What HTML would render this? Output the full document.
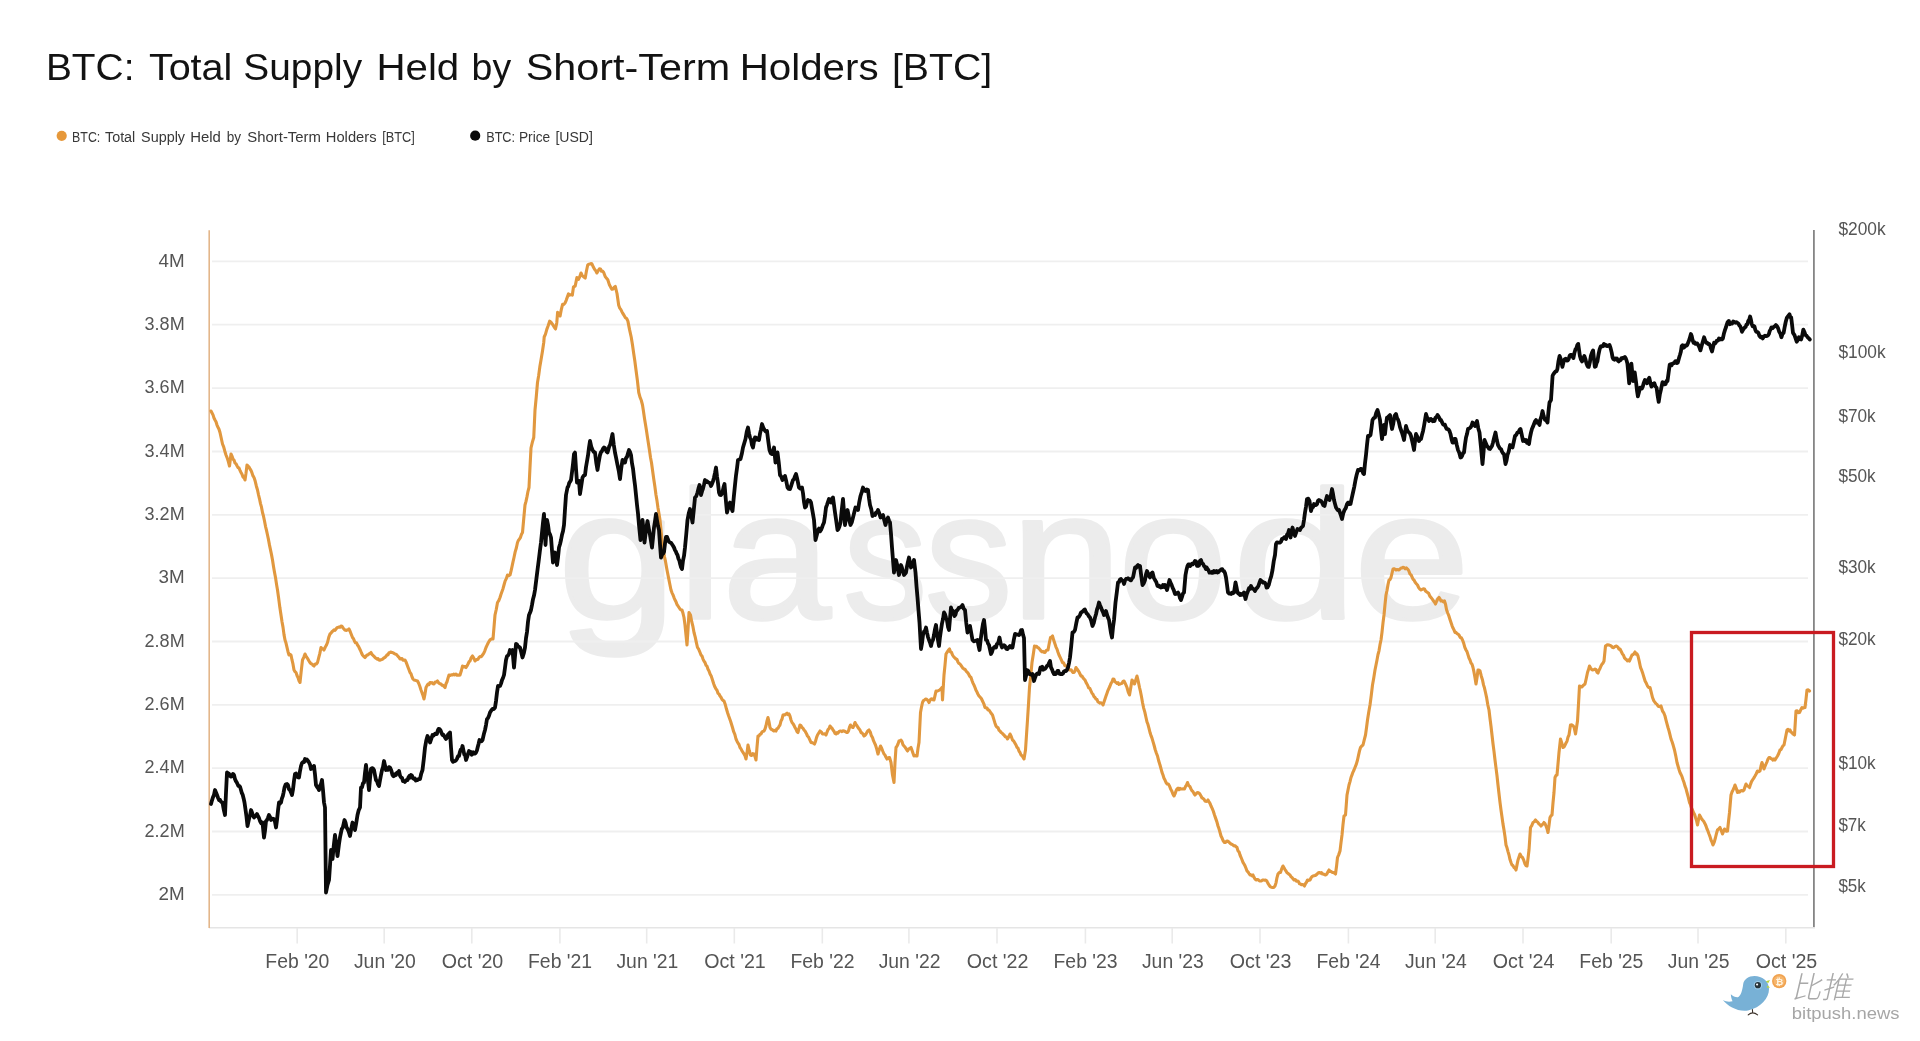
<!DOCTYPE html>
<html lang="en"><head><meta charset="utf-8"><title>BTC: Total Supply Held by Short-Term Holders [BTC]</title>
<style>html,body{margin:0;padding:0;background:#fff;}body{width:1920px;height:1041px;overflow:hidden;}svg{display:block;will-change:transform;}text{font-family:"Liberation Sans", sans-serif;}</style>
</head><body>
<svg width="1920" height="1041" viewBox="0 0 1920 1041">
<rect width="1920" height="1041" fill="#ffffff"/>
<text y="80" font-size="36.5" fill="#121212"><tspan x="45.91" textLength="88.54" lengthAdjust="spacingAndGlyphs">BTC:</tspan> <tspan x="148.90" textLength="83.48" lengthAdjust="spacingAndGlyphs">Total</tspan> <tspan x="243.34" textLength="118.77" lengthAdjust="spacingAndGlyphs">Supply</tspan> <tspan x="376.49" textLength="82.74" lengthAdjust="spacingAndGlyphs">Held</tspan> <tspan x="471.55" textLength="39.58" lengthAdjust="spacingAndGlyphs">by</tspan> <tspan x="525.77" textLength="204.46" lengthAdjust="spacingAndGlyphs">Short-Term</tspan> <tspan x="739.79" textLength="138.79" lengthAdjust="spacingAndGlyphs">Holders</tspan> <tspan x="891.95" textLength="100.35" lengthAdjust="spacingAndGlyphs">[BTC]</tspan></text>
<text y="142.4" font-size="15.4" fill="#383838"><tspan x="72.09" textLength="28.23" lengthAdjust="spacingAndGlyphs">BTC:</tspan> <tspan x="105.00" textLength="30.29" lengthAdjust="spacingAndGlyphs">Total</tspan> <tspan x="141.10" textLength="43.92" lengthAdjust="spacingAndGlyphs">Supply</tspan> <tspan x="190.13" textLength="30.71" lengthAdjust="spacingAndGlyphs">Held</tspan> <tspan x="226.80" textLength="14.33" lengthAdjust="spacingAndGlyphs">by</tspan> <tspan x="247.30" textLength="73.69" lengthAdjust="spacingAndGlyphs">Short-Term</tspan> <tspan x="325.84" textLength="50.66" lengthAdjust="spacingAndGlyphs">Holders</tspan> <tspan x="382.17" textLength="32.56" lengthAdjust="spacingAndGlyphs">[BTC]</tspan></text>
<text y="142.4" font-size="15.4" fill="#383838"><tspan x="486.18" textLength="28.87" lengthAdjust="spacingAndGlyphs">BTC:</tspan> <tspan x="518.91" textLength="31.29" lengthAdjust="spacingAndGlyphs">Price</tspan> <tspan x="555.39" textLength="37.46" lengthAdjust="spacingAndGlyphs">[USD]</tspan></text>
<circle cx="61.7" cy="135.8" r="5.1" fill="#e6983a"/>
<circle cx="475.2" cy="135.7" r="5.1" fill="#0a0a0a"/>
<text y="618" font-size="181" fill="#ececec" stroke="#ececec" stroke-width="3.5" stroke-linejoin="round"><tspan x="557.9" textLength="118.6" lengthAdjust="spacingAndGlyphs">g</tspan><tspan x="677.9" textLength="44.4" lengthAdjust="spacingAndGlyphs">l</tspan><tspan x="722.6" textLength="108.1" lengthAdjust="spacingAndGlyphs">a</tspan><tspan x="843.2" textLength="83.9" lengthAdjust="spacingAndGlyphs">s</tspan><tspan x="925.1" textLength="87.2" lengthAdjust="spacingAndGlyphs">s</tspan><tspan x="1011.0" textLength="110.7" lengthAdjust="spacingAndGlyphs">n</tspan><tspan x="1118.5" textLength="108.7" lengthAdjust="spacingAndGlyphs">o</tspan><tspan x="1232.6" textLength="124.6" lengthAdjust="spacingAndGlyphs">d</tspan><tspan x="1354.1" textLength="115.7" lengthAdjust="spacingAndGlyphs">e</tspan></text>
<line x1="212" y1="261.3" x2="1808" y2="261.3" stroke="#efefef" stroke-width="1.8"/>
<line x1="212" y1="324.7" x2="1808" y2="324.7" stroke="#efefef" stroke-width="1.8"/>
<line x1="212" y1="388.1" x2="1808" y2="388.1" stroke="#efefef" stroke-width="1.8"/>
<line x1="212" y1="451.5" x2="1808" y2="451.5" stroke="#efefef" stroke-width="1.8"/>
<line x1="212" y1="514.9" x2="1808" y2="514.9" stroke="#efefef" stroke-width="1.8"/>
<line x1="212" y1="578.2" x2="1808" y2="578.2" stroke="#efefef" stroke-width="1.8"/>
<line x1="212" y1="641.5" x2="1808" y2="641.5" stroke="#efefef" stroke-width="1.8"/>
<line x1="212" y1="704.8" x2="1808" y2="704.8" stroke="#efefef" stroke-width="1.8"/>
<line x1="212" y1="768.2" x2="1808" y2="768.2" stroke="#efefef" stroke-width="1.8"/>
<line x1="212" y1="831.5" x2="1808" y2="831.5" stroke="#efefef" stroke-width="1.8"/>
<line x1="212" y1="894.8" x2="1808" y2="894.8" stroke="#efefef" stroke-width="1.8"/>
<line x1="209" y1="927.7" x2="1815" y2="927.7" stroke="#e5e5e5" stroke-width="1.6"/>
<line x1="297.2" y1="928" x2="297.2" y2="943.5" stroke="#eaeaea" stroke-width="1.6"/>
<line x1="384.2" y1="928" x2="384.2" y2="943.5" stroke="#eaeaea" stroke-width="1.6"/>
<line x1="471.8" y1="928" x2="471.8" y2="943.5" stroke="#eaeaea" stroke-width="1.6"/>
<line x1="559.9" y1="928" x2="559.9" y2="943.5" stroke="#eaeaea" stroke-width="1.6"/>
<line x1="646.7" y1="928" x2="646.7" y2="943.5" stroke="#eaeaea" stroke-width="1.6"/>
<line x1="734.3" y1="928" x2="734.3" y2="943.5" stroke="#eaeaea" stroke-width="1.6"/>
<line x1="822.3" y1="928" x2="822.3" y2="943.5" stroke="#eaeaea" stroke-width="1.6"/>
<line x1="908.9" y1="928" x2="908.9" y2="943.5" stroke="#eaeaea" stroke-width="1.6"/>
<line x1="997.0" y1="928" x2="997.0" y2="943.5" stroke="#eaeaea" stroke-width="1.6"/>
<line x1="1085.4" y1="928" x2="1085.4" y2="943.5" stroke="#eaeaea" stroke-width="1.6"/>
<line x1="1172.2" y1="928" x2="1172.2" y2="943.5" stroke="#eaeaea" stroke-width="1.6"/>
<line x1="1260.0" y1="928" x2="1260.0" y2="943.5" stroke="#eaeaea" stroke-width="1.6"/>
<line x1="1348.4" y1="928" x2="1348.4" y2="943.5" stroke="#eaeaea" stroke-width="1.6"/>
<line x1="1435.2" y1="928" x2="1435.2" y2="943.5" stroke="#eaeaea" stroke-width="1.6"/>
<line x1="1523.0" y1="928" x2="1523.0" y2="943.5" stroke="#eaeaea" stroke-width="1.6"/>
<line x1="1611.2" y1="928" x2="1611.2" y2="943.5" stroke="#eaeaea" stroke-width="1.6"/>
<line x1="1698.0" y1="928" x2="1698.0" y2="943.5" stroke="#eaeaea" stroke-width="1.6"/>
<line x1="1785.8" y1="928" x2="1785.8" y2="943.5" stroke="#eaeaea" stroke-width="1.6"/>
<line x1="209.2" y1="230.3" x2="209.2" y2="928" stroke="#e3b68a" stroke-width="1.6"/>
<line x1="1813.9" y1="230" x2="1813.9" y2="927" stroke="#858585" stroke-width="1.8"/>
<text x="158.60" y="266.5" font-size="17.6" fill="#555555" textLength="26.10" lengthAdjust="spacingAndGlyphs">4M</text>
<text x="144.60" y="329.9" font-size="17.6" fill="#555555" textLength="40.07" lengthAdjust="spacingAndGlyphs">3.8M</text>
<text x="144.60" y="393.3" font-size="17.6" fill="#555555" textLength="40.07" lengthAdjust="spacingAndGlyphs">3.6M</text>
<text x="144.60" y="456.7" font-size="17.6" fill="#555555" textLength="40.07" lengthAdjust="spacingAndGlyphs">3.4M</text>
<text x="144.60" y="520.1" font-size="17.6" fill="#555555" textLength="40.07" lengthAdjust="spacingAndGlyphs">3.2M</text>
<text x="158.60" y="583.4" font-size="17.6" fill="#555555" textLength="26.10" lengthAdjust="spacingAndGlyphs">3M</text>
<text x="144.60" y="646.7" font-size="17.6" fill="#555555" textLength="40.07" lengthAdjust="spacingAndGlyphs">2.8M</text>
<text x="144.60" y="710.0" font-size="17.6" fill="#555555" textLength="40.07" lengthAdjust="spacingAndGlyphs">2.6M</text>
<text x="144.60" y="773.4" font-size="17.6" fill="#555555" textLength="40.07" lengthAdjust="spacingAndGlyphs">2.4M</text>
<text x="144.60" y="836.7" font-size="17.6" fill="#555555" textLength="40.07" lengthAdjust="spacingAndGlyphs">2.2M</text>
<text x="158.60" y="900.0" font-size="17.6" fill="#555555" textLength="26.10" lengthAdjust="spacingAndGlyphs">2M</text>
<text x="1838.40" y="235.0" font-size="17.6" fill="#555555" textLength="47.30" lengthAdjust="spacingAndGlyphs">$200k</text>
<text x="1838.40" y="358.2" font-size="17.6" fill="#555555" textLength="47.30" lengthAdjust="spacingAndGlyphs">$100k</text>
<text x="1838.40" y="421.6" font-size="17.6" fill="#555555" textLength="37.30" lengthAdjust="spacingAndGlyphs">$70k</text>
<text x="1838.40" y="481.6" font-size="17.6" fill="#555555" textLength="37.30" lengthAdjust="spacingAndGlyphs">$50k</text>
<text x="1838.40" y="572.7" font-size="17.6" fill="#555555" textLength="37.30" lengthAdjust="spacingAndGlyphs">$30k</text>
<text x="1838.40" y="645.3" font-size="17.6" fill="#555555" textLength="37.30" lengthAdjust="spacingAndGlyphs">$20k</text>
<text x="1838.40" y="768.6" font-size="17.6" fill="#555555" textLength="37.30" lengthAdjust="spacingAndGlyphs">$10k</text>
<text x="1838.40" y="831.4" font-size="17.6" fill="#555555" textLength="27.40" lengthAdjust="spacingAndGlyphs">$7k</text>
<text x="1838.40" y="891.8" font-size="17.6" fill="#555555" textLength="27.40" lengthAdjust="spacingAndGlyphs">$5k</text>
<text x="265.33" y="968.3" font-size="20" fill="#555555" textLength="64.09" lengthAdjust="spacingAndGlyphs">Feb '20</text>
<text x="353.95" y="968.3" font-size="20" fill="#555555" textLength="61.82" lengthAdjust="spacingAndGlyphs">Jun '20</text>
<text x="441.65" y="968.3" font-size="20" fill="#555555" textLength="61.62" lengthAdjust="spacingAndGlyphs">Oct '20</text>
<text x="528.03" y="968.3" font-size="20" fill="#555555" textLength="64.09" lengthAdjust="spacingAndGlyphs">Feb '21</text>
<text x="616.45" y="968.3" font-size="20" fill="#555555" textLength="61.82" lengthAdjust="spacingAndGlyphs">Jun '21</text>
<text x="704.15" y="968.3" font-size="20" fill="#555555" textLength="61.62" lengthAdjust="spacingAndGlyphs">Oct '21</text>
<text x="790.43" y="968.3" font-size="20" fill="#555555" textLength="64.09" lengthAdjust="spacingAndGlyphs">Feb '22</text>
<text x="878.65" y="968.3" font-size="20" fill="#555555" textLength="61.82" lengthAdjust="spacingAndGlyphs">Jun '22</text>
<text x="966.85" y="968.3" font-size="20" fill="#555555" textLength="61.62" lengthAdjust="spacingAndGlyphs">Oct '22</text>
<text x="1053.53" y="968.3" font-size="20" fill="#555555" textLength="64.09" lengthAdjust="spacingAndGlyphs">Feb '23</text>
<text x="1141.95" y="968.3" font-size="20" fill="#555555" textLength="61.82" lengthAdjust="spacingAndGlyphs">Jun '23</text>
<text x="1229.85" y="968.3" font-size="20" fill="#555555" textLength="61.62" lengthAdjust="spacingAndGlyphs">Oct '23</text>
<text x="1316.53" y="968.3" font-size="20" fill="#555555" textLength="64.09" lengthAdjust="spacingAndGlyphs">Feb '24</text>
<text x="1404.95" y="968.3" font-size="20" fill="#555555" textLength="61.82" lengthAdjust="spacingAndGlyphs">Jun '24</text>
<text x="1492.85" y="968.3" font-size="20" fill="#555555" textLength="61.62" lengthAdjust="spacingAndGlyphs">Oct '24</text>
<text x="1579.33" y="968.3" font-size="20" fill="#555555" textLength="64.09" lengthAdjust="spacingAndGlyphs">Feb '25</text>
<text x="1667.75" y="968.3" font-size="20" fill="#555555" textLength="61.82" lengthAdjust="spacingAndGlyphs">Jun '25</text>
<text x="1755.65" y="968.3" font-size="20" fill="#555555" textLength="61.62" lengthAdjust="spacingAndGlyphs">Oct '25</text>
<text x="1791.87" y="1019.2" font-size="16.3" fill="#a6a6a6" textLength="107.69" lengthAdjust="spacingAndGlyphs">bitpush.news</text>
<path d="M211,411 L212,412.93 L213,414.87 L214,418.02 L215,420 L216,421.73 L217,425.06 L218,427.26 L219,429.2 L220,432.5 L221.25,438.26 L222.5,444 L223.67,446.83 L224.83,451.21 L226,455 L227.17,457.89 L228.33,461.6 L229.5,466 L231,454 L232,456.11 L233,459.09 L234,460.07 L235,463 L236,463.75 L237,465.73 L238,467.56 L239,468 L240,470.39 L241,472.5 L242,474.19 L243,477.11 L244,477.31 L245,480 L246,473.15 L247,465 L248,465.95 L249,467.03 L250,469 L251,470.44 L252,472.91 L253,475.94 L254,477.5 L255.17,481.09 L256.33,485.98 L257.5,490 L258.5,494.75 L259.5,498.77 L260.5,503.59 L261.5,507.21 L262.5,512.5 L263.5,516.21 L264.5,520.97 L265.5,526.32 L266.5,530.37 L267.5,535 L268.5,539.67 L269.5,545.15 L270.5,549.92 L271.5,554.64 L272.5,560 L273.5,566.53 L274.5,572.36 L275.5,577.54 L276.5,584.13 L277.5,590 L278.67,598.38 L279.83,607.34 L281,615 L282,621.66 L283,627.12 L284,634.61 L285,640 L286,643.06 L287,647.35 L288,651.71 L289,655 L290,654.37 L291,655 L292,659.98 L293,664.17 L294,670 L295,671.55 L296,672.5 L297,675.48 L298,677.63 L299,680.68 L300,682.5 L301.25,670.91 L302.5,660 L303.75,657.35 L305,654 L306,655.92 L307,657.64 L308,659.17 L309,661 L310,662.61 L311,663.8 L312,663.95 L313,665.3 L314,666 L315.17,664.04 L316.33,664.03 L317.5,662.5 L318.67,657.76 L319.83,653.39 L321,647.5 L322,648.91 L323,648.78 L324,650 L325.17,647.29 L326.33,645.3 L327.5,642.5 L328.75,637.39 L330,634 L331,633.1 L332,631.74 L333,630.81 L334,629.87 L335,630.32 L336,629 L337,627.73 L338,627.35 L339,627 L340,627.27 L341,626 L342,626.25 L343,627.91 L344,629.09 L345,630 L346,630.44 L347,630.07 L348,629.91 L349,629 L350.17,631.43 L351.33,634.51 L352.5,637.5 L353.5,638.75 L354.5,641.19 L355.5,642.82 L356.5,642.87 L357.5,645 L358.5,646.42 L359.5,648.52 L360.5,650.52 L361.5,652.97 L362.5,655 L363.75,656.41 L365,657.5 L366,656.24 L367,654.94 L368,654.85 L369,653.93 L370,653.45 L371,652.5 L372,654.57 L373,655.34 L374,656.28 L375,657.5 L376,658.34 L377,659.07 L378,658.57 L379,660 L380,660.3 L381,659.67 L382,659.42 L383,658.87 L384,657.72 L385,657.5 L386,656.32 L387,654.79 L388,654.74 L389,652.71 L390,652.5 L391,652.02 L392,652.58 L393,652.79 L394,653.41 L395,654 L396,654.19 L397,655.1 L398,656.37 L399,657.28 L400,659 L401,658.95 L402,658.55 L403,660.27 L404,660.01 L405,660 L406,661.87 L407,664.55 L408,667.23 L409,669.76 L410,672.5 L411,673.7 L412,676.88 L413,679.01 L414,680 L415.17,680.27 L416.33,680.64 L417.5,681 L418.67,683.25 L419.83,686.28 L421,690 L422,692.72 L423,695.58 L424,699 L425,693.84 L426,687.5 L427,685.64 L428,684.14 L429,684.56 L430,682.5 L431,682.93 L432,682.61 L433,683.7 L434,684 L435.17,682.15 L436.33,682.05 L437.5,681 L438.67,682.86 L439.83,683.65 L441,684 L442,685.23 L443,685.32 L444,686.39 L445,687.5 L446,683.78 L447,681.74 L448,678.18 L449,675 L450.17,675.5 L451.33,674.69 L452.5,675 L453.67,674.17 L454.83,674.89 L456,674 L457,675.12 L458,675.13 L459,675.3 L460,675 L461.25,671.07 L462.5,666 L463.67,666.93 L464.83,666.51 L466,667.5 L467,665.91 L468,663.99 L469,661.78 L470,661 L471.25,657.65 L472.5,656 L473.75,658.1 L475,661 L476,659.69 L477,659.6 L478,659.2 L479,657.5 L480.17,656.57 L481.33,656.62 L482.5,655 L483.67,653.38 L484.83,650.82 L486,647.5 L487,645.38 L488,643.25 L489,641.38 L490,640 L491,639.12 L492,638.8 L493,639 L494,627.22 L495,615 L496.25,609.47 L497.5,602.5 L498.75,600.61 L500,597.5 L501,594.34 L502,591.53 L503,588.66 L504,585 L505.17,580.92 L506.33,578.62 L507.5,575 L508.75,575.74 L510,575 L511,571.13 L512,566.7 L513,561.84 L514,557.5 L515.17,551.92 L516.33,548.02 L517.5,542.5 L518.5,540.2 L519.5,539.04 L520.5,537.35 L521.5,534.31 L522.5,532.5 L523.75,518.57 L525,505 L526,501.43 L527,496.65 L528,491.28 L529,487.5 L530,467.08 L531,448 L532.38,442.12 L533.75,437.5 L535,410 L536.25,396.98 L537.5,382.5 L538.67,375.55 L539.83,366.86 L541,360 L542.38,351.84 L543.75,342.5 L544.2,337 L545.5,334.06 L546.8,329.4 L548.25,325.53 L549.7,321.1 L551.15,322.48 L552.6,324.4 L554.05,326.79 L555.5,329 L556.8,322.7 L557.6,312.3 L558.85,313.49 L560.1,316 L561.35,309.28 L562.6,304.3 L563.9,304.35 L565.2,302.7 L566.3,300.04 L567.4,296.88 L568.5,293.9 L569.77,295.11 L571.03,294.65 L572.3,295.2 L573.5,286.8 L575.2,286 L576.9,277.6 L578.5,279.3 L579.75,276.82 L581,273 L582.25,275.49 L583.5,276.8 L585.2,278 L586.45,270.98 L587.7,265 L588.75,264.25 L589.8,264.03 L590.85,263.63 L591.9,263.8 L593.6,267.6 L594.7,269.56 L595.8,270.77 L596.9,273 L598.15,270.75 L599.4,268.8 L600.45,268.99 L601.5,271.24 L602.55,271.09 L603.6,272.2 L605.3,276.8 L606.55,278.17 L607.8,279.7 L609.5,285.1 L610.75,287.35 L612,289.3 L613.1,289.06 L614.2,287.22 L615.3,286.4 L617,293.5 L618.7,305.2 L619.8,308.19 L620.9,309.67 L622,311.9 L623.13,313.89 L624.27,315.81 L625.4,317.7 L626.65,318.53 L627.9,321.1 L629.5,329.4 L631.2,337 L632.5,345 L633.67,353.23 L634.83,361.1 L636,370 L637.38,380.36 L638.75,392.5 L640,397.21 L641.25,400.24 L642.5,405 L643.5,411.45 L644.5,418.41 L645.5,424.6 L646.5,430.69 L647.5,437.5 L648.5,444.03 L649.5,450.6 L650.5,457.51 L651.5,462.79 L652.5,470 L653.67,478.44 L654.83,486.21 L656,495 L657,500.85 L658,507.99 L659,513.76 L660,520 L661.25,532.61 L662.5,545 L663.5,550.97 L664.5,556.74 L665.5,561.4 L666.5,567.2 L667.5,572.5 L668.67,578.34 L669.83,584.19 L671,590 L672,592.85 L673,594.91 L674,597.56 L675,600 L676,601.84 L677,604.54 L678,605.98 L679,607.5 L680,609.01 L681,609.96 L682,610 L683,613.32 L684,617.5 L685,625 L686,635.11 L687,645 L688,629.55 L689,612.5 L690.5,615 L691.67,621.45 L692.83,626.01 L694,632.5 L695.17,636.82 L696.33,642.4 L697.5,647.5 L698.67,649.23 L699.83,652.03 L701,655 L702,656.11 L703,659.06 L704,661.14 L705,662.5 L706,665.34 L707,666.13 L708,669.26 L709,671 L710.17,674.29 L711.33,676.36 L712.5,680 L713.67,683.69 L714.83,686.84 L716,689 L717,690.25 L718,693.31 L719,694.07 L720,696 L721,697.23 L722,699.38 L723,700.35 L724,701 L725.17,704.22 L726.33,708.54 L727.5,712.5 L728.5,715.53 L729.5,718.21 L730.5,720.95 L731.5,724.17 L732.5,727.5 L733.67,731.73 L734.83,734.3 L736,739 L737,741.22 L738,743.14 L739,744.51 L740,747.5 L741,748.82 L742,750.97 L743,752.4 L744,754 L745,755.72 L746,759 L747,752.87 L748,745 L749.25,750.52 L750.5,755 L751.67,755.52 L752.83,753.62 L754,754 L755,756.58 L756,760 L757,747.17 L758,736 L759,735.84 L760,734.25 L761,734 L762,732.08 L763,731.36 L764,730.99 L765,729 L766,725.74 L767,720.9 L768,717.5 L769,721.87 L770,727.5 L771,729.13 L772,729.38 L773,730.49 L774,731 L775,730.26 L776,731 L777,728.7 L778,728.34 L779,726.37 L780,725 L781,720.9 L782,719.12 L783,715 L784,714.91 L785,714.88 L786,714 L787,713.25 L788,714.64 L789,714 L790,716.22 L791,720 L792,722.53 L793,723.67 L794,725.34 L795,727.5 L796,729.26 L797,731.6 L798,732.5 L799,728.33 L800,725 L801,725.58 L802,727.55 L803,728.28 L804,730 L805.17,731.3 L806.33,733.39 L807.5,736 L808.67,737.36 L809.83,739.8 L811,742.5 L812.17,742.66 L813.33,743.15 L814.5,744 L815.5,741.47 L816.5,737.62 L817.5,735 L818.75,733 L820,731 L821.25,731.92 L822.5,734 L823.67,734.06 L824.83,733.8 L826,735 L827,732.3 L828,729.63 L829,728.67 L830,726 L831,727.43 L832,728.11 L833,730 L834,731.29 L835,733.45 L836,734 L837,732.54 L838,733.07 L839,731.63 L840,731 L841,730.99 L842,731.6 L843,730.81 L844,731 L845.17,731.51 L846.33,732.34 L847.5,732.5 L848.5,730.87 L849.5,727.22 L850.5,725 L851.75,726.85 L853,727.5 L854,725.37 L855,722.5 L856,724.41 L857,725.66 L858,727.5 L859,728.89 L860,730.03 L861,732.5 L862,733 L863,734.06 L864,736 L865,735.43 L866,734 L867,732.23 L868,730.73 L869,730 L870.17,731.75 L871.33,735.61 L872.5,737.5 L873.5,740.67 L874.5,742.81 L875.5,745 L876.75,749.11 L878,754 L879.25,749.54 L880.5,746 L881.67,748.29 L882.83,751.26 L884,754 L885,755.05 L886,757.24 L887,759 L888.25,757.82 L889.5,757.5 L891,762.5 L892.5,775 L894,782.5 L895,762.5 L896,747.5 L897,746.16 L898,744.02 L899,741 L900,740.58 L901,740 L902,741.54 L903,744.84 L904,746 L905.17,747.32 L906.33,749.08 L907.5,751 L908.67,748.94 L909.83,748.45 L911,747.5 L912,750.29 L913,753.17 L914,756 L915,755.46 L916,756.01 L917,756 L918,748.36 L919,742.5 L920.5,712.5 L921.5,707.08 L922.5,702.5 L923.5,700.59 L924.5,699.99 L925.5,699 L926.67,699.34 L927.83,700.47 L929,702.5 L930,700.4 L931,699 L932,698.85 L933,699.82 L934,700 L935,695.55 L936,691 L937.17,691.12 L938.33,690.62 L939.5,690 L940.75,689.14 L942,687.5 L942.5,700 L944,675 L945,665.18 L946,654 L947.17,652.13 L948.33,650.35 L949.5,649 L950.5,651.87 L951.5,652.37 L952.5,655 L953.67,656.74 L954.83,657.92 L956,659 L957,659.43 L958,662.1 L959,663.46 L960,664 L961,665.48 L962,666.92 L963,668.31 L964,669 L965.17,669.52 L966.33,671.38 L967.5,672.5 L968.67,674.17 L969.83,676.44 L971,677.5 L972,680.55 L973,683.09 L974,685.15 L975,687.5 L976,690.33 L977,692.08 L978,694.22 L979,696 L980.17,697.18 L981.33,698.49 L982.5,701 L983.75,703.59 L985,707.5 L986,707.87 L987,708.04 L988,709.98 L989,710 L990.17,711.77 L991.33,713.56 L992.5,715 L993.67,718.89 L994.83,722.66 L996,726 L997,727.23 L998,727.61 L999,730.29 L1000,731 L1001,732.45 L1002,733.01 L1003,734.06 L1004,735 L1005.17,736.62 L1006.33,736.89 L1007.5,739 L1008.75,736.93 L1010,734 L1011.25,736.55 L1012.5,740 L1013.67,740.9 L1014.83,742.91 L1016,745 L1017,747.29 L1018,748.22 L1019,751.06 L1020,752.5 L1021,754.98 L1022,755.74 L1023,757.16 L1024,759 L1025.5,750 L1026.5,734.96 L1027.5,720 L1028.5,704.08 L1029.5,687.5 L1030.75,675.48 L1032,662.5 L1033.25,654.46 L1034.5,646 L1035.5,646.76 L1036.5,646.24 L1037.5,647.5 L1038.67,648.03 L1039.83,649.39 L1041,651 L1042,651.81 L1043,651.4 L1044,652.25 L1045,652.5 L1046,650.79 L1047,650.04 L1048,650 L1049.25,643.33 L1050.5,637.5 L1051.5,637.06 L1052.5,636 L1053.75,640.35 L1055,644 L1056,647.07 L1057,649.12 L1058,652.28 L1059,655 L1060.17,657.44 L1061.33,659.94 L1062.5,662.5 L1063.67,662.98 L1064.83,665.54 L1066,666 L1067,666.46 L1068,668.86 L1069,669.79 L1070,670 L1071,669.76 L1072,671.18 L1073,672.45 L1074,672.5 L1075,670.84 L1076,667.5 L1077,669.03 L1078,670.33 L1079,671.85 L1080,674 L1081,676.05 L1082,675.98 L1083,677.9 L1084,679 L1085.17,680.36 L1086.33,683.04 L1087.5,685 L1088.67,687.81 L1089.83,688.34 L1091,691 L1092,693.2 L1093,694.27 L1094,696.57 L1095,697.5 L1096,699.12 L1097,699.52 L1098,701.97 L1099,702.5 L1100,703.1 L1101,702.89 L1102,703.48 L1103,705 L1104,701.99 L1105,698.91 L1106,696 L1107,693.14 L1108,690.35 L1109,688.22 L1110,686 L1111,683.34 L1112,681.95 L1113,679 L1114,679.27 L1115,681.78 L1116,682.5 L1117,683.49 L1118,682.57 L1119,684.39 L1120,684 L1121,683.63 L1122,683.22 L1123,681.37 L1124,681 L1125,682.94 L1126,685.14 L1127,687.5 L1128.25,692.15 L1129.5,695 L1130.75,687.66 L1132,680 L1133.25,681.75 L1134.5,684 L1135.75,679.87 L1137,676 L1138.25,681.35 L1139.5,687.5 L1140.5,691.69 L1141.5,696.78 L1142.5,702.5 L1143.67,708.1 L1144.83,712.11 L1146,717.5 L1147,722.03 L1148,724.55 L1149,728.33 L1150,732.5 L1151,735.64 L1152,738.19 L1153,741.65 L1154,745 L1155.17,749.49 L1156.33,753.03 L1157.5,756 L1158.75,761.06 L1160,765 L1161,768.57 L1162,772.41 L1163,775 L1164,778.29 L1165,780.09 L1166,782.5 L1167.17,784.06 L1168.33,784.02 L1169.5,786 L1170.62,788.92 L1171.75,790.91 L1172.88,793.95 L1174,796 L1175,793.93 L1176,790.95 L1177,789 L1178,788.19 L1179,789.77 L1180,788.33 L1181,789 L1182.17,788.95 L1183.33,788.72 L1184.5,789 L1185.5,786.47 L1186.5,785.1 L1187.5,782.5 L1188.67,785.52 L1189.83,786.4 L1191,789 L1192,790.78 L1193,791.64 L1194,793.6 L1195,795 L1196,793.98 L1197,792.73 L1198,792.5 L1199,793.06 L1200,794.31 L1201,796 L1202,797.98 L1203,798.49 L1204,799.25 L1205,801 L1206,801.4 L1207,801.23 L1208,800 L1209,801.91 L1210,803.35 L1211,806 L1212.17,808.45 L1213.33,811.26 L1214.5,815 L1215.67,818.38 L1216.83,821.6 L1218,826 L1219,828.86 L1220,832.23 L1221,836 L1222.17,838.29 L1223.33,841.03 L1224.5,842.5 L1225.5,842.45 L1226.5,841.34 L1227.5,841 L1228.67,841.84 L1229.83,843.04 L1231,844 L1232,844.45 L1233,845.04 L1234,846 L1235,845.71 L1236,846.6 L1237,847.5 L1238,850.84 L1239,851.83 L1240,855 L1241,857.26 L1242,859.73 L1243,862.4 L1244,864 L1245,865.82 L1246,868.25 L1247,871 L1248,871.88 L1249,873.49 L1250,875 L1251,874.9 L1252,875.82 L1253,875 L1254,877.29 L1255,879 L1256,880 L1257.17,879.47 L1258.33,879.82 L1259.5,881 L1260.5,881.04 L1261.5,881.05 L1262.5,880 L1263.5,879.95 L1264.5,880.16 L1265.5,880 L1266.67,880.77 L1267.83,883.14 L1269,885 L1270.17,886.6 L1271.33,887.25 L1272.5,887.5 L1273.75,887.39 L1275,886 L1276,882.85 L1277,877.55 L1278,874 L1279.25,872.55 L1280.5,872.5 L1281.75,868.63 L1283,866 L1284,867.71 L1285,869.66 L1286,871 L1287,872.79 L1288,873.4 L1289,874.27 L1290,875 L1291,876.73 L1292,877.42 L1293,878.84 L1294,880 L1295.17,879.5 L1296.33,881.17 L1297.5,881 L1298.5,881.52 L1299.5,883.76 L1300.5,884 L1301.5,884.76 L1302.5,884.65 L1303.5,884.83 L1304.5,886 L1305.5,883.55 L1306.5,882.25 L1307.5,880 L1308.75,880.36 L1310,880 L1311,877.97 L1312,876.56 L1313,876 L1314,875.71 L1315,875.48 L1316,875 L1317.17,873.97 L1318.33,872.84 L1319.5,872.5 L1320.5,873.18 L1321.5,872.62 L1322.5,874 L1323.5,873.98 L1324.5,874.6 L1325.5,875 L1326.67,874.16 L1327.83,871.93 L1329,870 L1330.17,871.52 L1331.33,871.62 L1332.5,872.5 L1333.5,872.52 L1334.5,873.04 L1335.5,874 L1336.5,866.58 L1337.5,857.5 L1338.75,854.62 L1340,851 L1341,842.65 L1342,835 L1343,824.64 L1344,816 L1345.5,815 L1347,795 L1348,790 L1349,785 L1350,781.56 L1351,777.5 L1352,774.86 L1353,772.06 L1354,770 L1355.17,766.97 L1356.33,764.1 L1357.5,760 L1358.5,755.34 L1359.5,750.83 L1360.5,747.5 L1361.75,745.96 L1363,745 L1364.25,739.86 L1365.5,735 L1366.5,727.83 L1367.5,720 L1368.75,711.96 L1370,705 L1371.25,695.53 L1372.5,685 L1373.75,677.93 L1375,670 L1376,665.01 L1377,660 L1378,654.47 L1379,650.85 L1380,644.66 L1381,640 L1382,632.24 L1383,622.85 L1384,615 L1385,604.5 L1386,595 L1387,590.47 L1388,584.63 L1389,580 L1390,579.56 L1391,577.5 L1392,573.24 L1393,569 L1394,568.77 L1395,569.17 L1396,570 L1397,569.6 L1398,569.8 L1399,570.06 L1400,569 L1401,567.99 L1402,568.06 L1403,567.36 L1404,567.5 L1405.17,568.85 L1406.33,567.86 L1407.5,569 L1408.75,570.69 L1410,574 L1411,574.71 L1412,576.81 L1413,579.22 L1414,580 L1415.17,582.36 L1416.33,583.75 L1417.5,585 L1418.67,587.56 L1419.83,589.11 L1421,590 L1422.17,589.36 L1423.33,588.77 L1424.5,589 L1425.5,590.95 L1426.5,591.78 L1427.5,592.5 L1428.67,593.32 L1429.83,596.13 L1431,597.5 L1432.12,598.91 L1433.25,600.52 L1434.38,602.07 L1435.5,604 L1436.67,601.24 L1437.83,598.77 L1439,597.5 L1440,598.85 L1441,601 L1442.17,600.73 L1443.33,601.82 L1444.5,601 L1445.5,604.16 L1446.5,609.5 L1447.5,612.5 L1448.67,615.31 L1449.83,618.91 L1451,622.5 L1452,625.58 L1453,628.08 L1454,629.88 L1455,632.5 L1456,632.31 L1457,633.7 L1458,634.15 L1459,635 L1460.17,637.42 L1461.33,637.78 L1462.5,640 L1463.67,643.09 L1464.83,647.38 L1466,650 L1467,651.65 L1468,654.84 L1469,658.06 L1470,660 L1471,662.98 L1472,664.17 L1473,667.5 L1474,672.16 L1475,677.71 L1476,684 L1477,677.76 L1478,670 L1479,670.06 L1480,671 L1481.25,675.95 L1482.5,680 L1483.5,684.88 L1484.5,688.04 L1485.5,692.5 L1486.67,697.92 L1487.83,704.99 L1489,710 L1490,718.54 L1491,726.24 L1492,735 L1493,743.72 L1494,751.34 L1495,760 L1496,767.93 L1497,775.77 L1498,785 L1499,793.79 L1500,802.42 L1501,810 L1502,816.91 L1503,824.13 L1504,830 L1505,836.64 L1506,845 L1507,847.85 L1508,851.62 L1509,855 L1510,859.57 L1511,862.5 L1512,864.98 L1513,865.63 L1514,867.5 L1515,868.3 L1516,870 L1517,864.87 L1518,860 L1519,856.99 L1520,854 L1521.25,856.52 L1522.5,857.5 L1523.75,860.18 L1525,864 L1526,865.54 L1527,866 L1528,858.43 L1529,850 L1530.5,827.5 L1531.75,825.58 L1533,822.5 L1534.25,821.74 L1535.5,820 L1536.67,821.53 L1537.83,822.36 L1539,824 L1540,824.68 L1541,826 L1542,824.58 L1543,824.17 L1544,822.5 L1545,823.49 L1546,826 L1547,828.71 L1548,832.5 L1549,825.46 L1550,817.5 L1551,815.8 L1552,815 L1553,802.97 L1554,792.5 L1555,777.5 L1556,775.41 L1557,775 L1558,763.84 L1559,752.5 L1560.5,739 L1561.75,742.94 L1563,747.5 L1564,746.86 L1565,745.19 L1566,743 L1567,741.21 L1568,737.24 L1569,735 L1570.5,725 L1571.67,724.92 L1572.83,725.61 L1574,727 L1575.5,734 L1576.5,727.5 L1577.5,721 L1578.5,703.88 L1579.5,686 L1580.75,686.4 L1582,687 L1583,685.52 L1584,684.85 L1585,684 L1586.25,678.47 L1587.5,672.5 L1588.5,669.56 L1589.5,666 L1590.5,667.78 L1591.5,669.29 L1592.5,670 L1593.75,669.8 L1595,669 L1596,669.65 L1597,672.28 L1598,673 L1599,670.3 L1600,668.45 L1601,666 L1602,664.1 L1603,663.1 L1604,661 L1605.5,646 L1606.67,645.13 L1607.83,644.88 L1609,645 L1610.17,645.37 L1611.33,646.04 L1612.5,647.5 L1613.67,647.69 L1614.83,646.64 L1616,646 L1617,646.44 L1618,647.31 L1619,649.14 L1620,649 L1621.25,651.51 L1622.5,654 L1623.5,655.18 L1624.5,657.89 L1625.5,659 L1626.5,659.78 L1627.5,660.88 L1628.5,659.78 L1629.5,661 L1630.75,657.95 L1632,655 L1633,654.57 L1634,653.61 L1635,652 L1636,654.08 L1637,653.84 L1638,656 L1639.25,661.38 L1640.5,667.5 L1641.67,670.15 L1642.83,673.61 L1644,677.5 L1645.17,681.18 L1646.33,683.32 L1647.5,686 L1648.75,687.52 L1650,687.5 L1651.25,692.27 L1652.5,697.5 L1653.75,700.66 L1655,702.5 L1656,703.58 L1657,704.4 L1658,706 L1659,706.5 L1660,706.8 L1661,706 L1662.5,711 L1663.75,712.79 L1665,716 L1666,720.01 L1667,723.88 L1668,727.5 L1669,730.83 L1670,734.93 L1671,739 L1672.17,742.02 L1673.33,745.8 L1674.5,750 L1675.75,755.81 L1677,762.5 L1678,766.01 L1679,769.44 L1680,772.5 L1681,774.47 L1682,776.62 L1683,779.69 L1684,782.5 L1685,786.15 L1686,788.6 L1687,792.5 L1688.25,797.16 L1689.5,802.5 L1690.5,804.47 L1691.5,808.03 L1692.5,810 L1693.5,812.59 L1694.5,814.21 L1695.5,817.5 L1696.5,820.53 L1697.5,825 L1698.5,819.81 L1699.5,815 L1700.5,816.76 L1701.5,818.58 L1702.5,820 L1703.67,821.26 L1704.83,823.39 L1706,826 L1707,829.02 L1708,831.17 L1709,834 L1710,836.61 L1711,840 L1712,842.15 L1713,845 L1714.25,842.07 L1715.5,837.5 L1716.5,833.41 L1717.5,830 L1718.75,828.87 L1720,827.5 L1721.25,830.49 L1722.5,834 L1723.5,831.35 L1724.5,829 L1725.5,830.32 L1726.5,831.23 L1727.5,831 L1728.5,821.5 L1729.5,812.5 L1731,795 L1732,791.95 L1733,790 L1734,787.91 L1735,785 L1736.25,788.22 L1737.5,792.5 L1738.5,791.11 L1739.5,792.22 L1740.5,791 L1741.67,790.53 L1742.83,790.91 L1744,790 L1745,786.83 L1746,784 L1747.17,785.86 L1748.33,786.26 L1749.5,787.5 L1750.5,784.39 L1751.5,781.63 L1752.5,780 L1753.75,778.09 L1755,776 L1756.25,773.75 L1757.5,771 L1758.75,771.74 L1760,771 L1761,766.01 L1762,762.5 L1763,765.97 L1764,769 L1765,766.27 L1766,764 L1767,761.84 L1768,759.03 L1769,757.5 L1770,757.61 L1771,758.54 L1772,759 L1773,760.1 L1774,758.96 L1775,760 L1776.25,757.98 L1777.5,756 L1778.75,753.55 L1780,750 L1781,749.59 L1782,747.5 L1783,745.71 L1784,745 L1785.5,737.5 L1787,730 L1788,729.33 L1789,730.8 L1790,730 L1791,732.19 L1792,732.64 L1793,734 L1794.5,735 L1796,711 L1797.17,710.7 L1798.33,712.77 L1799.5,712.5 L1800.75,709.8 L1802,707.5 L1803,708.23 L1804,707.72 L1805,707.5 L1806,699.33 L1807,690 L1808.25,689.89 L1809.5,691" fill="none" stroke="#e1983f" stroke-width="3.1" stroke-linejoin="round" stroke-linecap="round"/>
<path d="M211,804 L212,800.36 L213,797.18 L214,794.77 L215,790 L216,792.4 L217,795.02 L218,797.76 L219,800 L219.88,799.68 L220.75,801.29 L221.62,802.26 L222.5,802.5 L223.75,809.63 L225,815 L226,792.53 L227,772.5 L228,773.08 L229,773.61 L230,776 L231,776.68 L232,776.08 L233,773.88 L234,775 L234.88,778.7 L235.75,780.89 L236.62,782.21 L237.5,784 L238.38,785.85 L239.25,785.97 L240.12,787.05 L241,790 L241.88,793.21 L242.75,794.93 L243.62,798.45 L244.5,802.5 L245.5,809.56 L246.5,816.76 L247.5,826 L248.38,821.89 L249.25,817.82 L250.12,815.03 L251,810 L252,812.56 L253,815.42 L254,817.5 L255,816.33 L256,815.65 L257,814 L258,816.21 L259,818 L260,821 L261.25,823.24 L262.5,822.5 L264,837.5 L265,830.74 L266,821 L267,820.02 L268,817.62 L269,815 L270,816.95 L271,820 L272,818.86 L273,818.7 L274,819 L275,821.96 L276,827.5 L277,819.97 L278,810.53 L279,802.5 L280,803.54 L281,802.5 L281.88,798.41 L282.75,796.37 L283.62,792.29 L284.5,787.5 L285.75,784.25 L287,784 L288,785.13 L289,789.23 L290,790 L291,792.41 L292,795 L293,789.44 L294,780.69 L295,774 L296,773.59 L297,776.14 L298,777.46 L299,777.5 L300,771.06 L301,766 L302,763.01 L303,762 L304,762.14 L305,759 L306,760.65 L307,759.6 L308,760.86 L309,762.5 L310,764.55 L311,769 L312,766.68 L313,767.89 L314,766 L315,774.53 L316,785 L317,786.84 L318,788.18 L319,790 L320,785.74 L321,784.03 L322,780 L323,790.14 L324,802.5 L325,807.5 L326,892.5 L327.5,885 L329,880 L330,865.43 L331,850 L332.5,859 L333.75,845.85 L335,835 L336.25,845.26 L337.5,856 L339,844 L340,837.39 L341,832.5 L341.88,828.68 L342.75,827.66 L343.62,824.04 L344.5,820 L345.5,822.41 L346.5,827.15 L347.5,829 L348.75,831.63 L350,836 L351.25,828.93 L352.5,822.5 L353.75,827.31 L355,830 L356.25,822.93 L357.5,815 L358.75,810.05 L360,807.5 L361,787.5 L362,787.3 L363,783.31 L364,782.5 L365,773.02 L366,765 L367,774.15 L368,781.15 L369,790 L370,778.89 L371,769 L372,768.05 L373,768.44 L374,770 L375,775.25 L376,780 L377,781.23 L378,784.3 L379,786 L380,780.12 L381,775 L382,770.19 L383,767.04 L384,761 L385,765.45 L386,770 L387,769.6 L388,769.85 L389,767.17 L390,767.5 L391.25,770.21 L392.5,775 L393.38,776.23 L394.25,775.95 L395.12,774.25 L396,775 L397,772.74 L398,773.05 L399,771 L400,775.57 L401,777.5 L402,777.76 L403,781.18 L404,781 L404.88,781.9 L405.75,780.81 L406.62,780.01 L407.5,780 L408.38,777.56 L409.25,776.12 L410.12,777.64 L411,775 L412,775.55 L413,778.28 L414,779 L414.88,778.52 L415.75,780.47 L416.62,780.04 L417.5,780 L418.75,778.88 L420,779 L421.25,773.53 L422.5,770 L423.75,759.41 L425,747.5 L426.25,740.46 L427.5,736 L428.75,738.44 L430,742.5 L431.25,738.93 L432.5,735 L433.38,735.81 L434.25,734.84 L435.12,733.59 L436,734 L436.88,734 L437.75,730.61 L438.62,728.8 L439.5,729 L440.5,730.31 L441.5,732.84 L442.5,735 L443.38,734.68 L444.25,736.03 L445.12,737.61 L446,739 L447,737.59 L448,734.64 L449,733.71 L450,732.5 L451,747.42 L452,760 L453,761.77 L454,761.14 L455,761 L456,760.32 L457,758.75 L458,756.17 L459,756 L459.88,752.11 L460.75,749.55 L461.62,749.73 L462.5,746 L463.38,750.1 L464.25,754.39 L465.12,755.06 L466,760 L467,757.41 L468,753.95 L469,751 L469.88,752.44 L470.75,751.96 L471.62,754.75 L472.5,754 L473.38,752.35 L474.25,753.39 L475.12,753.59 L476,752.5 L476.88,750.58 L477.75,746.96 L478.62,743.74 L479.5,740 L480.5,740.88 L481.5,741.25 L482.5,740 L483.75,734.56 L485,730 L486,725.06 L487,719 L488,718.04 L489,715.78 L490,712.5 L491.25,710.5 L492.5,709 L493.75,709.12 L495,707.5 L496,701.09 L497,692.5 L498,686 L499,686.22 L500,686 L501,683.62 L502,680.15 L503,678 L504,675 L505,667.83 L506,660 L507,656.24 L508,655.42 L509,653.98 L510,650 L511.25,651.14 L512.5,650 L514,667.5 L515,656.43 L516,644 L517,644.54 L518,646.46 L519,646.87 L520,647.5 L521.25,652.32 L522.5,657.5 L523.75,653.52 L525,647.5 L526,638.13 L527,632 L528,621.71 L529,615 L530,612.8 L531,610 L532,604.94 L533,599.19 L534,595.6 L535,590 L536.25,579.99 L537.5,570 L538.75,560.34 L540,550 L541,542.51 L542,532.5 L543,522.52 L544,514 L545.5,545 L547,520 L548,524.78 L549,532.5 L550,534.4 L551,537.5 L552,550.53 L553,562.5 L554,556.61 L555,552.5 L556,557.76 L557,565 L558,557.47 L559,547.5 L560,544.23 L561,540 L562,534.83 L563,531.18 L564,525 L565,509.48 L566,495 L567.5,487.5 L568.38,486.12 L569.25,482.85 L570.12,481.67 L571,480 L572,472.25 L573,463.91 L574,454 L575,452.5 L576,468.64 L577,482.5 L578,481.4 L579,481 L580,494 L581.25,486 L582.5,477.5 L583.75,475.7 L585,475 L586,467.03 L587,461.24 L588,455.39 L589,447.5 L590,441 L591.25,446.55 L592.5,450 L593.75,451.88 L595,452.5 L596.25,462.6 L597.5,470 L598.75,461.83 L600,455 L601,452.13 L602,451.1 L603,448.7 L604,447.5 L604.88,447.89 L605.75,449.74 L606.62,451.63 L607.5,452.5 L608.38,449.61 L609.25,446.2 L610.12,444.89 L611,441 L612.5,434 L613.75,444.7 L615,452.5 L616.25,458.61 L617.5,465 L618.75,470.72 L620,479 L621.25,468.09 L622.5,460 L623.75,462.37 L625,462.5 L626,458 L627,456.88 L628,453.34 L629,450 L630,451.93 L631,455 L632,463.37 L633,468.56 L634,477.5 L635,485.16 L636,495 L637,504.86 L638,513.57 L639,525 L640.5,540 L641.5,530.99 L642.5,520 L643.5,530.46 L644.5,542.5 L645.5,534.26 L646.5,526.81 L647.5,521 L648.75,528.39 L650,535 L651,541.09 L652,547.5 L653,537.89 L654,527.5 L655,521.22 L656,514 L657,520.26 L658,526.04 L659,530 L660,544.3 L661,557.5 L662,554.76 L663,553.76 L664,552 L665,543.54 L666,537 L667,536.91 L668,539.67 L669,541.77 L670,542.5 L671,542.79 L672,544.32 L673,545.79 L674,547.5 L674.88,549.97 L675.75,551.31 L676.62,553.47 L677.5,555 L678.4,558.57 L679.3,560.28 L680.2,564.28 L681.1,567.42 L682,569 L683,560.59 L684,555.96 L685,547.5 L686.25,534.42 L687.5,520 L688.75,513.39 L690,509 L691.25,515.61 L692.5,522.5 L693.75,510.38 L695,497.5 L696.25,496.23 L697.5,492.5 L698.5,488.38 L699.5,485 L701,495 L702,491.46 L703,488.64 L704,484.64 L705,480 L706,481.96 L707,481.14 L708,482.33 L709,482.5 L710,483.36 L711,486 L712,483.83 L713,481.29 L714,477.5 L715,472.92 L716,467.5 L717,476.49 L718,483.31 L719,492.5 L720,494.95 L721,495 L721.88,493.69 L722.75,490.93 L723.62,486.86 L724.5,484 L725.75,499.12 L727,512.5 L728,508.63 L729,507.06 L730,502.5 L731.25,507.82 L732.5,511 L733.75,497.55 L735,485 L736,475.41 L737,468.16 L738,460 L739.25,459.65 L740.5,459 L741.75,454.05 L743,447.5 L744.25,443.21 L745.5,439 L746.75,431.84 L748,427.5 L749,433.43 L750,437.5 L751,439.53 L752,445.07 L753,447.5 L754,441.52 L755,437.5 L756,437.63 L757,439.61 L758,438.3 L759,440 L760,433.61 L761,429.38 L762,424 L763.25,427.67 L764.5,430 L765.75,431.52 L767,431 L768.25,441.07 L769.5,450 L770.75,453.34 L772,454 L773,450.73 L774,447.5 L775.5,462.5 L776.5,458.85 L777.5,452.5 L778.75,462.51 L780,475 L781.25,476.66 L782.5,480 L783.75,478.08 L785,476 L786.25,481.12 L787.5,487.5 L788.75,488.94 L790,489 L791,486.42 L792,483.07 L793,480 L794,479.03 L795,476.18 L796,474 L797,477.94 L798,482.64 L799,487.5 L800,488.54 L801,488.7 L802,487.5 L803,493.29 L804,501.89 L805,507.5 L806,506.41 L807,502.57 L808,500 L809,501.05 L810,500.77 L811,502.5 L812,508.44 L813,514.18 L814,520 L815.5,540 L816.75,535.32 L818,530 L819,528.58 L820,531.41 L821,530 L822,527.55 L823,524.7 L824,522.5 L825,515.9 L826,507.5 L827,504.86 L828,501.81 L829,499 L830,501.32 L831,502.5 L832,498.7 L833,497.5 L834,505.12 L835,512.5 L836.25,520.99 L837.5,530 L838.5,528.87 L839.5,526.27 L840.5,522.5 L841.75,510.06 L843,499 L844,511.92 L845,525 L846.25,516.38 L847.5,510 L848.5,514.8 L849.5,520.95 L850.5,525 L851.75,522.45 L853,517.5 L854.25,512.43 L855.5,507.5 L856.75,508.2 L858,510 L859.25,502.07 L860.5,496 L861.75,492.1 L863,487.5 L864.25,490.53 L865.5,491 L866.75,489.39 L868,490 L869,498.34 L870,505 L871.25,509.07 L872.5,516 L873.75,514.58 L875,515 L876,512.52 L877,512.23 L878,510 L879.25,513.22 L880.5,517.5 L881.75,515.82 L883,515 L884.25,520.36 L885.5,525 L886.75,520.06 L888,517.5 L889,520.69 L890,522.5 L891,533.87 L892,547.5 L893,560.03 L894,572.5 L895,565.5 L896,560 L897,564.09 L898,570.09 L899,575 L900,569.81 L901,565 L902,567.96 L903,571.41 L904,575 L905,573.84 L906,572.5 L907,566.48 L908,561.61 L909,557.5 L910,562.89 L911,567.5 L912,565.42 L913,562.59 L914,560 L915.5,572.5 L916.5,586.05 L917.5,597.5 L918.5,610.34 L919.5,622.5 L921,649 L922,643.07 L923,635 L924,631.7 L925,630.72 L926,627.5 L927,632.6 L928,637.04 L929,640 L930,642.45 L931,646 L932,641.78 L933,639.93 L934,635 L935,629.15 L936,625 L937,633.5 L938,640.16 L939,646 L940,636.9 L941,630 L942,623.38 L943,619.01 L944,612.5 L945,614.28 L946,617.5 L947,620.46 L948,626.83 L949,630 L950,618.51 L951,607.5 L951.88,610.49 L952.75,610.63 L953.62,613.58 L954.5,616 L955.5,614.56 L956.5,610.55 L957.5,610 L958.75,607.85 L960,607.5 L961.25,606.8 L962.5,605 L963.75,608.73 L965,610 L966.25,622.66 L967.5,632.5 L968.75,628.1 L970,626 L971.25,633.02 L972.5,640 L973.75,641.27 L975,641 L976.25,640.51 L977.5,640 L978.5,645.56 L979.5,650 L980.75,639.07 L982,630 L983,623.71 L984,620 L985,628.82 L986,640 L987,640.28 L988,643.49 L989,645 L990,649.54 L991,654 L992,652.04 L993,648.61 L994,647.5 L995,646.55 L996,647.5 L996.88,644.11 L997.75,643.52 L998.62,641.47 L999.5,637.5 L1000.75,643.78 L1002,647.5 L1003,645.79 L1004,645.19 L1005,646 L1006.25,648.85 L1007.5,649 L1008.75,647.39 L1010,646 L1011.25,647.54 L1012.5,647.5 L1013.75,640.23 L1015,634 L1016,634.15 L1017,634.55 L1018,634.54 L1019,635 L1020,633.64 L1021,630.21 L1022,630 L1023,634.6 L1024,638 L1025,680 L1026,676.03 L1027,670 L1028.25,671.04 L1029.5,674 L1030.5,673.86 L1031.5,674.72 L1032.5,674 L1034,681 L1035,677.72 L1036,675 L1037,673.75 L1038,673.33 L1039,674 L1040.5,667.5 L1041.38,667.91 L1042.25,666.8 L1043.12,669.8 L1044,669 L1045,668.91 L1046,667.61 L1047,666 L1048,665.42 L1049,663.05 L1050,661 L1051,667.5 L1052,669.38 L1053,672.13 L1054,674 L1054.88,673.26 L1055.75,673.95 L1056.62,672.66 L1057.5,671 L1058.38,671.02 L1059.25,673.73 L1060.12,673.98 L1061,674 L1062,674.08 L1063,673.44 L1064,671.47 L1065,671 L1066,671.02 L1067,669.81 L1068,667.5 L1069,663.08 L1070,657.5 L1071.25,645.8 L1072.5,632.5 L1073.75,632.05 L1075,630 L1076.25,623.47 L1077.5,617.5 L1078.75,616.92 L1080,615 L1081,612.46 L1082,612.03 L1083,611.16 L1084,610 L1084.88,609.53 L1085.75,611.57 L1086.62,613.42 L1087.5,614 L1088.75,616.12 L1090,617.5 L1091.25,620.95 L1092.5,626 L1093.75,623.08 L1095,617.5 L1096,614.25 L1097,609.51 L1098,606.73 L1099,602.5 L1100,605.21 L1101,607.5 L1102,610.1 L1103,612.17 L1104,615 L1105,614.5 L1106,611 L1107,614.43 L1108,617.6 L1109,620 L1110,626.62 L1111,633.11 L1112,637.5 L1113,627.32 L1114,620 L1115.5,602.5 L1116.75,592.85 L1118,582.5 L1119,582.05 L1120,579.44 L1121,579 L1122,580.37 L1123,580.98 L1124,584 L1125,580.59 L1126,579 L1127,578.88 L1128,578.3 L1129,579 L1130,580 L1131,580.38 L1132,578.48 L1133,577.5 L1134,572.52 L1135,567.5 L1136,568.07 L1137,566.04 L1138,565 L1139,566.99 L1140,566 L1141.25,575.91 L1142.5,585 L1143.75,583.43 L1145,580 L1146,574.23 L1147,571 L1148,573.46 L1149,576.11 L1150,577.5 L1151.25,573.64 L1152.5,572.5 L1153.75,577.54 L1155,580 L1156.25,581.98 L1157.5,586 L1158.38,586.29 L1159.25,585.76 L1160.12,587.11 L1161,587.5 L1162,587.21 L1163,584.93 L1164,586.96 L1165,585 L1166,587.26 L1167,590 L1168.25,585.08 L1169.5,580 L1170.5,582.79 L1171.5,584.6 L1172.5,587.5 L1173.75,590.11 L1175,594 L1176,593.97 L1177,593.18 L1178,592.5 L1179,594.35 L1180,598.15 L1181,600 L1182,596.89 L1183,593.54 L1184,592.5 L1185.5,575 L1186.5,569.74 L1187.5,566 L1188.38,564.38 L1189.25,564.47 L1190.12,566.01 L1191,565 L1192,563.67 L1193,564.19 L1194,562.75 L1195,561 L1196,561.32 L1197,565.8 L1198,566 L1199,565.33 L1200,560.72 L1201,560 L1202,563.22 L1203,563.79 L1204,566 L1204.88,566.68 L1205.75,568.92 L1206.62,567.48 L1207.5,569 L1208.5,570.24 L1209.5,572.65 L1210.5,572.5 L1211.38,572.79 L1212.25,571.66 L1213.12,572.81 L1214,571 L1214.88,572.33 L1215.75,572.06 L1216.62,570.97 L1217.5,572.5 L1218.5,572.04 L1219.5,570.7 L1220.5,570 L1221.38,569.36 L1222.25,569.16 L1223.12,570.83 L1224,571 L1225,573.12 L1226,577.5 L1227,584.83 L1228,592.5 L1229,593.5 L1230,593.37 L1231,594 L1232,592.79 L1233,593.25 L1234,592.5 L1235.5,582.5 L1236.5,587.26 L1237.5,592.5 L1238.38,593.71 L1239.25,593.34 L1240.12,595.12 L1241,594 L1242,594.86 L1243,593.7 L1244,592.5 L1245.5,599 L1246.75,594.22 L1248,591 L1249,588.17 L1250,588.84 L1251,586 L1252,588.1 L1253,588.87 L1254,589.33 L1255,591 L1256.25,588.56 L1257.5,587.5 L1258.5,585.56 L1259.5,582.69 L1260.5,580 L1261.38,580.9 L1262.25,581.65 L1263.12,582.64 L1264,582.5 L1264.88,582.82 L1265.75,584.25 L1266.62,587.69 L1267.5,587.5 L1268.75,585 L1270,580 L1271.25,576.14 L1272.5,570 L1273.75,561.12 L1275,555 L1276,544 L1277,542.31 L1278,542.56 L1279,542.65 L1280,542.5 L1281,541.62 L1282,538.81 L1283,538.87 L1284,537.5 L1285,536.97 L1286,539 L1287,534.76 L1288,533.53 L1289,530 L1290.5,537.5 L1291.5,532.65 L1292.5,527.5 L1293.75,532.14 L1295,536 L1296.25,532.12 L1297.5,529 L1298.75,529.44 L1300,530 L1301,527.8 L1302,526.86 L1303,526 L1304,519.98 L1305,512.5 L1306,506.77 L1307,499 L1308.25,498.72 L1309.5,501 L1311,511 L1312,507.53 L1313,507.26 L1314,504 L1315,504.87 L1316,505 L1317,504.14 L1318,500.81 L1319,500 L1320,500.61 L1321,500.94 L1322,502.5 L1323.25,505.18 L1324.5,506 L1325.75,500.61 L1327,496 L1328.25,498.46 L1329.5,500 L1330.75,495.97 L1332,489 L1333,493.98 L1334,500 L1335,503.9 L1336,507.5 L1337,509.07 L1338,510.43 L1339,510 L1340,512.78 L1341,515.61 L1342,519 L1343.25,513.29 L1344.5,510 L1345.75,508.13 L1347,504 L1347.88,502.74 L1348.75,502.75 L1349.62,504.19 L1350.5,504 L1351.75,498.2 L1353,492.5 L1354.25,486.81 L1355.5,480 L1356.75,474.4 L1358,470 L1359.25,470.33 L1360.5,469 L1361.38,468.98 L1362.25,470.64 L1363.12,473.24 L1364,474 L1365,463.25 L1366,455 L1367,444.91 L1368,436 L1369.25,436.17 L1370.5,435 L1371.5,428.08 L1372.5,420 L1373.75,418.1 L1375,417.5 L1376.25,412.68 L1377.5,410 L1378.75,414.57 L1380,420 L1381,430.18 L1382,439 L1383,431.6 L1384,425 L1385,434 L1386,424.6 L1387,417.5 L1388,417.29 L1389,416.04 L1390,415 L1391,423.26 L1392,429 L1393.25,423.82 L1394.5,416 L1396,414 L1397,418.07 L1398,419.48 L1399,422.5 L1400,427.16 L1401,430 L1402,432.75 L1403,436.12 L1404,440 L1405,432.7 L1406,426 L1407,429.47 L1408,431.52 L1409,432.5 L1410,433.49 L1411,436 L1412,440.25 L1413,444.93 L1414,450 L1415,441.59 L1416,434 L1417,436.02 L1418,438.33 L1419,441 L1420,439.08 L1421,439 L1422,434.86 L1423,431.22 L1424,426 L1425,420.12 L1426,414 L1427,417.34 L1428,418.86 L1429,421 L1430,419.03 L1431,419 L1431.88,420.28 L1432.75,421.14 L1433.62,419.84 L1434.5,421 L1435.5,417.57 L1436.5,417.05 L1437.5,415 L1438.38,416.38 L1439.25,417.7 L1440.12,420.15 L1441,420 L1442,422.12 L1443,424.25 L1444,425 L1444.88,424.69 L1445.75,427.14 L1446.62,428.86 L1447.5,429 L1448.5,429.42 L1449.5,431.08 L1450.5,434 L1451.5,438.96 L1452.5,442.5 L1453.5,442.53 L1454.5,438.92 L1455.5,439 L1456.75,444.9 L1458,450 L1459.25,452.68 L1460.5,457.5 L1461.38,456.99 L1462.25,455.45 L1463.12,452.99 L1464,452.5 L1465,444.16 L1466,437.5 L1467,434.05 L1468,429 L1469.25,428.31 L1470.5,427.5 L1471.5,425.79 L1472.5,422.5 L1473.75,423.93 L1475,426 L1476,423.01 L1477,421 L1478.25,428.15 L1479.5,432.5 L1481,447.5 L1482.5,464 L1483.5,452.52 L1484.5,440 L1485.75,442.98 L1487,446 L1488,447.11 L1489,448.66 L1490,449 L1491,447.46 L1492,445.91 L1493,442.5 L1494.25,437.23 L1495.5,432.5 L1496.75,439.73 L1498,445 L1499,446.83 L1500,448.73 L1501,449 L1502,451.58 L1503,453.33 L1504,454 L1505.5,464 L1506.5,460.67 L1507.5,455 L1508.75,451.37 L1510,445 L1511.25,446.67 L1512.5,447.5 L1513.75,441.82 L1515,436 L1516.25,434.88 L1517.5,432.5 L1518.5,432.24 L1519.5,429.93 L1520.5,429 L1521.75,434.76 L1523,441 L1524,439.61 L1525,441.06 L1526,440 L1527,442.81 L1528,442.29 L1529,444 L1530,437.25 L1531,432.5 L1532,428.78 L1533,426.61 L1534,424 L1535,421.38 L1536,420 L1536.88,422.66 L1537.75,421.18 L1538.62,423.18 L1539.5,425 L1540.5,419.18 L1541.5,416.11 L1542.5,411 L1543.75,416.33 L1545,420 L1546.25,420.29 L1547.5,422.5 L1548.5,411.19 L1549.5,402.5 L1551,400 L1552.6,375.6 L1553.65,373.83 L1554.7,372.3 L1555.6,371.45 L1556.5,371.33 L1557.4,369 L1558.5,361.06 L1559.6,355.9 L1560.53,358.39 L1561.47,362.29 L1562.4,366.9 L1563.5,362.2 L1564.6,359.2 L1565.7,358.77 L1566.8,360.59 L1567.9,360.3 L1568.77,358.75 L1569.63,355.81 L1570.5,354.8 L1571.47,354.95 L1572.43,356.34 L1573.4,358.1 L1574.45,352.72 L1575.5,349.3 L1576.4,348.27 L1577.3,345.14 L1578.2,343.9 L1579.05,350.04 L1579.9,355.9 L1581,359.6 L1582.1,361.4 L1583.2,358.59 L1584.3,355.9 L1585.4,359.03 L1586.5,363.6 L1587.6,366.41 L1588.7,366.9 L1589.8,362.64 L1590.9,355.9 L1592,352.68 L1593.1,350.4 L1593.95,358.79 L1594.8,366.9 L1595.67,366.44 L1596.53,363.18 L1597.4,361.4 L1598.5,354.51 L1599.6,349.3 L1600.7,346.35 L1601.8,346.1 L1602.9,346.34 L1604,343.9 L1604.97,345.54 L1605.93,345.02 L1606.9,346.1 L1607.77,345.82 L1608.63,345.41 L1609.5,345 L1610.6,348.12 L1611.7,352.6 L1612.55,357.37 L1613.4,359.2 L1614.27,359.67 L1615.13,358.41 L1616,359.2 L1616.9,358.47 L1617.8,360.58 L1618.7,361.4 L1619.63,359.91 L1620.57,360.09 L1621.5,358.1 L1622.6,358.37 L1623.7,357.68 L1624.8,357 L1625.67,358.17 L1626.53,360.37 L1627.4,363.6 L1628.3,372.92 L1629.2,383.3 L1630.3,372.73 L1631.4,363.6 L1633.1,381.1 L1634.7,372.3 L1636.2,383.3 L1637.05,390.96 L1637.9,396.4 L1639,392.1 L1640.1,387.7 L1641,387.74 L1641.9,388.45 L1642.8,386.6 L1643.85,382.6 L1644.9,380 L1646,381.75 L1647.1,383.3 L1648.2,379.5 L1649.3,377.8 L1650.4,383.01 L1651.5,386.6 L1652.47,384 L1653.43,385.36 L1654.4,383.3 L1655.5,386.54 L1656.6,387.7 L1657.65,395.77 L1658.7,401.9 L1659.8,394.65 L1660.9,389.9 L1662.5,382.2 L1663.6,382.61 L1664.7,384.4 L1665.63,383.95 L1666.57,380.99 L1667.5,381.1 L1668.6,372.84 L1669.7,364.7 L1670.63,364.24 L1671.57,365.33 L1672.5,363.6 L1673.4,363.13 L1674.3,363.21 L1675.2,361.4 L1676.07,361.18 L1676.93,363 L1677.8,362.5 L1678.9,358.4 L1680,354.8 L1680.85,351.7 L1681.7,346.1 L1682.6,345.21 L1683.5,347.75 L1684.4,347.1 L1685.33,345.53 L1686.27,345.83 L1687.2,345 L1688.3,342.33 L1689.4,339.5 L1690.9,334 L1691.8,336.27 L1692.7,340.6 L1693.57,342.7 L1694.43,342.23 L1695.3,343.9 L1696.27,343.7 L1697.23,343.36 L1698.2,345 L1699.3,347.12 L1700.4,350.4 L1701.45,346.5 L1702.5,342.8 L1704.1,337.3 L1705.2,340.7 L1706.3,342.8 L1707.23,342.75 L1708.17,344.09 L1709.1,343.9 L1710.07,345.25 L1711.03,348.65 L1712,351.5 L1713.05,347.04 L1714.1,342.8 L1715,343.47 L1715.9,342.32 L1716.8,340.6 L1717.9,340.7 L1719,338.4 L1720.1,339.5 L1721.03,338.76 L1721.97,339.4 L1722.9,338.4 L1724,333.21 L1725.1,329.6 L1725.97,327.26 L1726.83,324.41 L1727.7,322 L1728.8,320.9 L1729.9,324.21 L1731,323.1 L1732.1,323.63 L1733.2,321.49 L1734.3,322 L1735.4,322.71 L1736.5,322.1 L1737.6,323.1 L1738.47,323.79 L1739.33,325.35 L1740.2,326.3 L1741.1,328.44 L1742,331.8 L1742.93,329.85 L1743.87,328.54 L1744.8,327.4 L1745.67,326.83 L1746.53,324.54 L1747.4,324.2 L1748.3,320.73 L1749.2,319.76 L1750.1,316.5 L1750.95,319.84 L1751.8,324.2 L1752.67,326.24 L1753.53,325.79 L1754.4,326.3 L1755.3,329.72 L1756.2,331.8 L1757.3,331.84 L1758.4,332.9 L1759.5,336.08 L1760.6,337.3 L1761.7,336.63 L1762.8,338.4 L1763.87,336.59 L1764.93,335.72 L1766,336.2 L1766.97,336 L1767.93,335.36 L1768.9,334 L1769.77,330.84 L1770.63,329.31 L1771.5,327.4 L1772.6,328.04 L1773.7,326.94 L1774.8,326.3 L1775.9,325.07 L1777,326.3 L1778.1,328.23 L1779.2,331.8 L1780.3,333.52 L1781.4,337.3 L1782.5,333.97 L1783.6,332.9 L1784.65,327.17 L1785.7,322 L1786.8,317.97 L1787.9,316.5 L1789.5,314.3 L1790.35,317.21 L1791.2,317.6 L1792.1,325.03 L1793,332.9 L1794.5,335.1 L1795.6,338.43 L1796.7,341.7 L1797.8,339.94 L1798.9,337.3 L1800,339.2 L1801.1,339.5 L1802.2,335.51 L1803.3,329.6 L1804.4,332.01 L1805.5,335.1 L1806.55,335.69 L1807.6,337.3 L1808.7,338.14 L1809.8,339.5" fill="none" stroke="#0a0a0a" stroke-width="3.8" stroke-linejoin="round" stroke-linecap="round"/>
<rect x="1691.5" y="632.5" width="142" height="234" fill="none" stroke="#c91b21" stroke-width="3.3"/>
<g id="logo">
<path d="M1754.5,976 C1762,976 1769,981 1769,989 C1769,998 1761,1007.5 1748,1010.5 C1738,1012 1728,1006.5 1722.8,1000 C1726,1001.8 1729.5,1002 1732.5,1001.2 C1731.5,999 1731,996.5 1730.8,994.3 C1733,996.5 1735.5,997.5 1738,997.3 C1741,995.5 1742.5,990 1743.2,984 C1744,979.5 1748.5,976 1754.5,976 Z" fill="#78b1d6"/>
<path d="M1765.8,981.2 L1770,980 L1768.2,983.2 Z M1767.3,985.4 L1770.2,987.4 L1766.8,987.8 Z" fill="#b9d43c"/>
<circle cx="1757.9" cy="985.2" r="4.2" fill="#9ccbe8"/>
<circle cx="1757.9" cy="985.2" r="3.1" fill="#26343a"/>
<circle cx="1757.1" cy="984.5" r="1.1" fill="#ffffff"/>
<path d="M1752.4,1009.5 L1752.7,1012.7 M1748.2,1014.9 Q1752.7,1010.8 1757.6,1014.9" fill="none" stroke="#3a3028" stroke-width="1.1" stroke-linecap="round"/>
<circle cx="1779.2" cy="981.1" r="7.2" fill="#f0a24f"/>
<circle cx="1779.2" cy="981.1" r="5.6" fill="#f6b56c"/>
<text x="1779.3" y="984.6" font-size="9.5" font-weight="700" fill="#fff4e0" text-anchor="middle" style="font-family:'DejaVu Sans','Liberation Sans',sans-serif">₿</text>
<text transform="translate(1791.2,998.3) skewX(-13)" font-size="30" font-weight="300" fill="#a9a9a9" textLength="60" lengthAdjust="spacing" style="font-family:'Liberation Sans','Noto Sans CJK SC',sans-serif">比推</text>
</g>
</svg></body></html>
